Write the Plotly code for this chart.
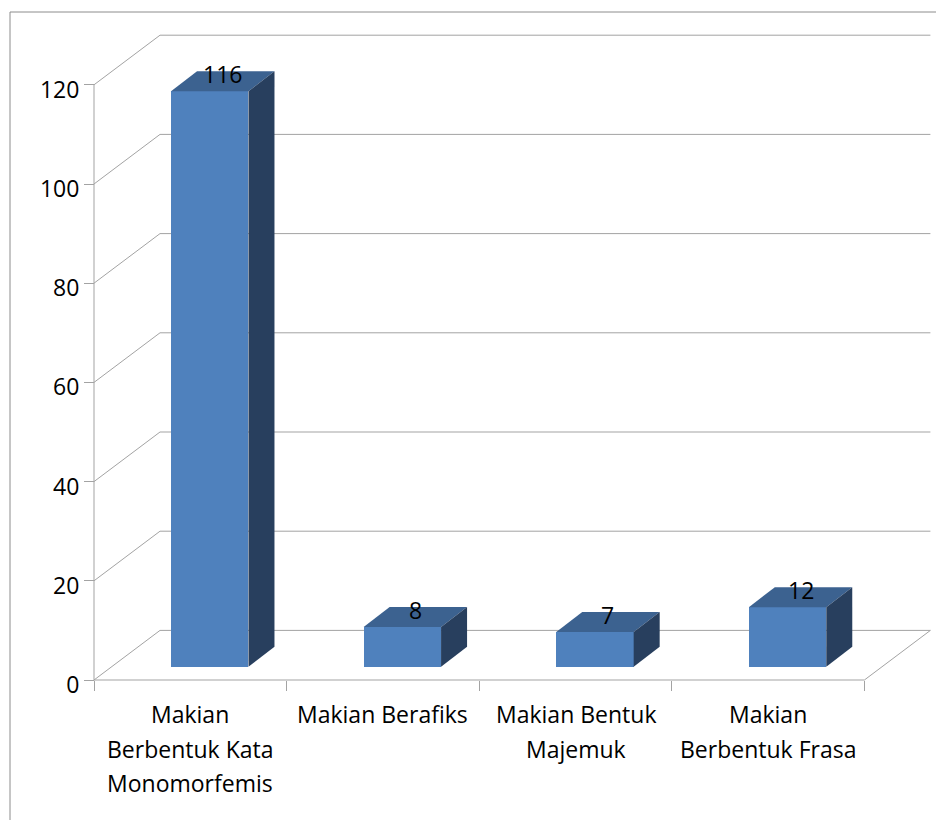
import plotly.graph_objects as go

# Data
categories = [
    ["Makian", "Berbentuk Kata", "Monomorfemis"],
    ["Makian Berafiks"],
    ["Makian Bentuk", "Majemuk"],
    ["Makian", "Berbentuk Frasa"],
]
values = [116, 8, 7, 12]
y_ticks = [0, 20, 40, 60, 80, 100, 120]

# Figure geometry (pixels)
W, H = 936, 820
M_L, M_R, M_T, M_B = 30, 0, 10, 110
AXIS_X_PX = 94.0      # front vertical axis
AXIS_Y_PX = 680.0     # front floor edge (value 0)
CAT_PX = 192.6        # pixels per category
VAL_PX = 4.96         # pixels per value unit

plot_w = W - M_L - M_R
plot_h = H - M_T - M_B
x_range = [(M_L - AXIS_X_PX) / CAT_PX, (W - M_R - AXIS_X_PX) / CAT_PX]
y_range = [(AXIS_Y_PX - (H - M_B)) / VAL_PX, (AXIS_Y_PX - M_T) / VAL_PX]

# Oblique 3-D projection offsets (in data units)
WALL_DX = 66.0 / CAT_PX
WALL_DY = 10.0
BAR_SHIFT_X = 0.101
BAR_BASE = 13.3 / VAL_PX
BAR_W = 0.402
BAR_DX = 26.0 / CAT_PX
BAR_DY = 20.0 / VAL_PX

n = len(values)
GRID = "#A3A3A3"
FRONT = "#4F81BD"
TOP = "#3C6290"
SIDE = "#283F5E"
FONT = "Open Sans"
FS = 23

fig = go.Figure()

shapes = []


def seg(x0, y0, x1, y1):
    shapes.append(dict(type="line", xref="x", yref="y", x0=x0, y0=y0,
                       x1=x1, y1=y1, layer="below",
                       line=dict(color=GRID, width=1)))


# Back wall and side wall gridlines
for t in y_ticks:
    seg(0, t, WALL_DX, t + WALL_DY)
    seg(WALL_DX, t + WALL_DY, n + WALL_DX, t + WALL_DY)
# floor edges and front value axis
seg(0, 0, n, 0)
seg(n, 0, n + WALL_DX, WALL_DY)
seg(0, 0, 0, y_ticks[-1])

# Bars: front faces
centers = [i + 0.5 + BAR_SHIFT_X for i in range(n)]
fig.add_trace(go.Bar(x=centers, y=values, base=BAR_BASE, width=BAR_W,
                     marker=dict(color=FRONT, line=dict(width=0)),
                     hoverinfo="skip", showlegend=False))

# Bars: top and side faces
for xc, v in zip(centers, values):
    xl, xr = xc - BAR_W / 2, xc + BAR_W / 2
    b, t = BAR_BASE, BAR_BASE + v
    fig.add_trace(go.Scatter(
        x=[xl, xr, xr + BAR_DX, xl + BAR_DX, xl],
        y=[t, t, t + BAR_DY, t + BAR_DY, t],
        mode="lines", fill="toself", fillcolor=TOP,
        line=dict(width=0, color=TOP), hoverinfo="skip", showlegend=False))
    fig.add_trace(go.Scatter(
        x=[xr, xr + BAR_DX, xr + BAR_DX, xr, xr],
        y=[b, b + BAR_DY, t + BAR_DY, t, b],
        mode="lines", fill="toself", fillcolor=SIDE,
        line=dict(width=0, color=SIDE), hoverinfo="skip", showlegend=False))

annotations = []
# Value labels on bar tops
for xc, v in zip(centers, values):
    annotations.append(dict(
        x=xc + BAR_DX / 2, y=BAR_BASE + v + BAR_DY / 2, xref="x", yref="y",
        text=str(v), showarrow=False, yshift=7, yanchor="middle",
        font=dict(family=FONT, size=FS, color="black")))

# Category labels under the floor
for i, lines in enumerate(categories):
    for k, line in enumerate(lines):
        annotations.append(dict(
            x=i + 0.5, y=0, xref="x", yref="y", text=line, showarrow=False,
            yanchor="middle", yshift=-(34 + 34.5 * k),
            font=dict(family=FONT, size=FS, color="black")))

# Chart-area border
shapes.append(dict(
    type="rect", xref="paper", yref="paper",
    x0=(10 - M_L) / plot_w, x1=(W + 10 - M_L) / plot_w,
    y0=-(M_B + 10) / plot_h, y1=(H - M_B - 12) / plot_h,
    line=dict(color="#8C8C8C", width=1), fillcolor="rgba(0,0,0,0)", layer="below"))

fig.update_layout(
    width=W, height=H,
    margin=dict(l=M_L, r=M_R, t=M_T, b=M_B),
    paper_bgcolor="white", plot_bgcolor="white",
    showlegend=False, bargap=0,
    annotations=annotations, shapes=shapes,
    xaxis=dict(range=x_range, tickvals=list(range(n + 1)), showticklabels=False,
               ticks="outside", ticklen=10, tickcolor=GRID, tickwidth=1,
               showgrid=False, zeroline=False, showline=False,
               anchor="free", position=(H - M_B - AXIS_Y_PX) / plot_h),
    yaxis=dict(range=y_range, tickvals=y_ticks,
               ticks="outside", ticklen=10, tickcolor=GRID, tickwidth=1,
               showgrid=False, zeroline=False, showline=False,
               anchor="free", position=(AXIS_X_PX - M_L) / plot_w,
               ticklabelshift=5,
               tickfont=dict(family=FONT, size=FS, color="black")),
)

fig.write_html("out.html")
